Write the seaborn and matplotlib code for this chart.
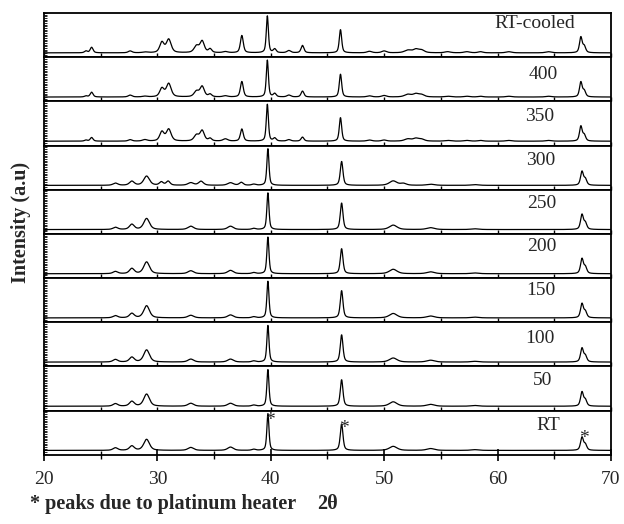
import numpy as np
import pandas as pd
import matplotlib
matplotlib.use("Agg")
import matplotlib.pyplot as plt
import matplotlib.transforms as mtrans
from matplotlib.ticker import MultipleLocator
import seaborn as sns

sns.set_theme(style="white")
plt.rcParams['font.family'] = ['Liberation Serif', 'DejaVu Serif']

# ---- data (peak positions in 2theta, relative heights) ----
labels = ["RT-cooled", "400", "350", "300", "250", "200", "150", "100", "50", "RT"]

# low-temperature phase (RT ... 300)
low_pos = [26.3, 27.75, 29.05, 30.35, 30.95, 32.95, 33.85, 36.45, 37.4, 38.5,
           39.75, 46.25, 50.8, 51.7, 54.1, 58.0, 67.45, 67.75]
low_fwhm = [0.5, 0.5, 0.6, 0.4, 0.4, 0.6, 0.5, 0.6, 0.4, 0.4,
            0.22, 0.28, 0.8, 0.6, 0.8, 0.8, 0.3, 0.3]
h_RT = [0.07, 0.12, 0.30, 0.0, 0.0, 0.08, 0.0, 0.09, 0.0, 0.03,
        1.0, 0.72, 0.11, 0.0, 0.05, 0.02, 0.35, 0.15]
h_50 = [0.07, 0.13, 0.33, 0.0, 0.0, 0.08, 0.0, 0.08, 0.0, 0.03,
        1.0, 0.72, 0.12, 0.0, 0.05, 0.02, 0.38, 0.16]
h_100 = [0.07, 0.13, 0.33, 0.0, 0.0, 0.08, 0.0, 0.08, 0.0, 0.03,
         1.0, 0.74, 0.11, 0.0, 0.05, 0.02, 0.37, 0.16]
h_150 = [0.06, 0.12, 0.33, 0.0, 0.0, 0.07, 0.0, 0.08, 0.0, 0.03,
         1.0, 0.74, 0.12, 0.0, 0.05, 0.02, 0.38, 0.16]
h_200 = [0.06, 0.14, 0.32, 0.0, 0.0, 0.08, 0.0, 0.09, 0.0, 0.03,
         1.0, 0.68, 0.12, 0.0, 0.05, 0.02, 0.40, 0.17]
h_250 = [0.06, 0.14, 0.30, 0.0, 0.0, 0.09, 0.0, 0.09, 0.0, 0.03,
         1.0, 0.72, 0.12, 0.0, 0.05, 0.02, 0.40, 0.17]
h_300 = [0.06, 0.11, 0.25, 0.09, 0.11, 0.07, 0.11, 0.07, 0.08, 0.03,
         1.0, 0.65, 0.12, 0.05, 0.03, 0.02, 0.37, 0.16]

# high-temperature phase (350, 400, RT-cooled)
high_pos = [23.7, 24.2, 27.6, 28.9, 30.4, 31.0, 33.45, 33.95, 34.65, 36.0,
            37.45, 39.7, 40.35, 41.6, 42.8, 46.15, 48.7, 50.0, 52.1, 52.8,
            53.3, 55.6, 57.3, 58.5, 61.0, 64.5, 67.35, 67.65]
high_fwhm = [0.3, 0.3, 0.4, 0.5, 0.45, 0.5, 0.5, 0.45, 0.35, 0.5,
             0.3, 0.22, 0.3, 0.4, 0.3, 0.25, 0.5, 0.5, 0.7, 0.6,
             0.6, 0.6, 0.6, 0.5, 0.6, 0.6, 0.28, 0.3]
h_350 = [0.03, 0.10, 0.04, 0.04, 0.25, 0.32, 0.16, 0.28, 0.07, 0.06,
         0.33, 1.0, 0.08, 0.04, 0.11, 0.64, 0.03, 0.03, 0.06, 0.07,
         0.05, 0.02, 0.02, 0.02, 0.02, 0.02, 0.40, 0.16]
h_400 = [0.03, 0.13, 0.05, 0.02, 0.23, 0.36, 0.15, 0.28, 0.07, 0.03,
         0.42, 1.0, 0.09, 0.05, 0.16, 0.62, 0.03, 0.04, 0.07, 0.08,
         0.06, 0.02, 0.02, 0.02, 0.02, 0.02, 0.40, 0.16]
h_cool = [0.05, 0.15, 0.05, 0.02, 0.28, 0.36, 0.18, 0.31, 0.10, 0.03,
          0.47, 1.0, 0.10, 0.06, 0.20, 0.63, 0.04, 0.05, 0.07, 0.09,
          0.07, 0.03, 0.03, 0.03, 0.03, 0.03, 0.42, 0.17]

panel_peaks = {
    "RT-cooled": (high_pos, high_fwhm, h_cool),
    "400": (high_pos, high_fwhm, h_400),
    "350": (high_pos, high_fwhm, h_350),
    "300": (low_pos, low_fwhm, h_300),
    "250": (low_pos, low_fwhm, h_250),
    "200": (low_pos, low_fwhm, h_200),
    "150": (low_pos, low_fwhm, h_150),
    "100": (low_pos, low_fwhm, h_100),
    "50": (low_pos, low_fwhm, h_50),
    "RT": (low_pos, low_fwhm, h_RT),
}

pt_peaks = [39.75, 46.25, 67.45]  # marked with * in RT panel
xticks = [20, 30, 40, 50, 60, 70]

two_theta = np.linspace(20, 70, 2501)


def pattern(pos, fwhm, heights, eta=0.55):
    y = np.zeros_like(two_theta)
    for p, w, h in zip(pos, fwhm, heights):
        d = (two_theta - p) / (w / 2)
        lor = 1.0 / (1.0 + d ** 2)
        gau = np.exp(-np.log(2) * d ** 2)
        y += h * (eta * lor + (1 - eta) * gau)
    return y


fig, axes = plt.subplots(10, 1, figsize=(6.24, 5.24), dpi=100, sharex=True)
fig.subplots_adjust(left=0.0705, right=0.979, top=0.975, bottom=0.132, hspace=0)

label_xy = {"RT-cooled": (63.3, 0.77), "400": (64.0, 0.62), "350": (63.7, 0.66),
            "300": (63.8, 0.66), "250": (63.9, 0.70), "200": (63.9, 0.71),
            "150": (63.8, 0.73), "100": (63.7, 0.64), "50": (64.0, 0.69),
            "RT": (64.5, 0.66)}

for ax, lab in zip(axes, labels):
    pos, fwhm, hts = panel_peaks[lab]
    df = pd.DataFrame({"two_theta": two_theta, "intensity": pattern(pos, fwhm, hts)})
    sns.lineplot(data=df, x="two_theta", y="intensity", ax=ax, color="black",
                 linewidth=0.9, estimator=None, sort=False)
    ax.set_xlim(20, 70)
    ax.set_ylim(-0.12, 1.08)
    ax.set_xlabel("")
    ax.set_ylabel("")
    for s in ax.spines.values():
        s.set_visible(True)
        s.set_color("black")
        s.set_linewidth(1.3)
    ax.yaxis.set_major_locator(MultipleLocator(0.045))
    ax.tick_params(axis="y", left=True, right=False, direction="in", length=2,
                   width=0.6, labelleft=False, color="black")
    ax.xaxis.set_major_locator(matplotlib.ticker.FixedLocator(xticks))
    ax.xaxis.set_minor_locator(MultipleLocator(5))
    ax.tick_params(axis="x", which="both", bottom=True, direction="in", length=3,
                   width=1.0, labelbottom=False, color="black")
    tr = mtrans.blended_transform_factory(ax.transData, ax.transAxes)
    lx, ly = label_xy[lab]
    ax.text(lx, ly, lab, transform=tr, ha="center", va="center", fontsize=14)

bottom = axes[-1]
bottom.tick_params(axis="x", which="major", direction="inout", length=9, width=1.2,
                   labelbottom=True, labelsize=14, pad=7)
bottom.tick_params(axis="x", which="minor", direction="inout", length=6, width=1.0)
bottom.set_xticklabels([str(t) for t in xticks])

# asterisks on platinum peaks in the RT panel
rt_ax = axes[-1]
for p, yy in zip(pt_peaks, [0.80, 0.59, 0.32]):
    rt_ax.text(p + 0.2, yy, "*", ha="center", va="center", fontsize=14)

fig.text(21 / 624, 1 - 222 / 524, "Intensity (a.u)", rotation=90, ha="center",
         va="center", fontsize=14.5, fontweight="bold")
fig.text(30 / 624, 1 - 504 / 524, "* peaks due to platinum heater", ha="left",
         va="center", fontsize=14.5, fontweight="bold")
fig.text(328 / 624, 1 - 504 / 524, "2θ", ha="center", va="center",
         fontsize=14.5, fontweight="bold")

fig.savefig("out.png", dpi=100)
